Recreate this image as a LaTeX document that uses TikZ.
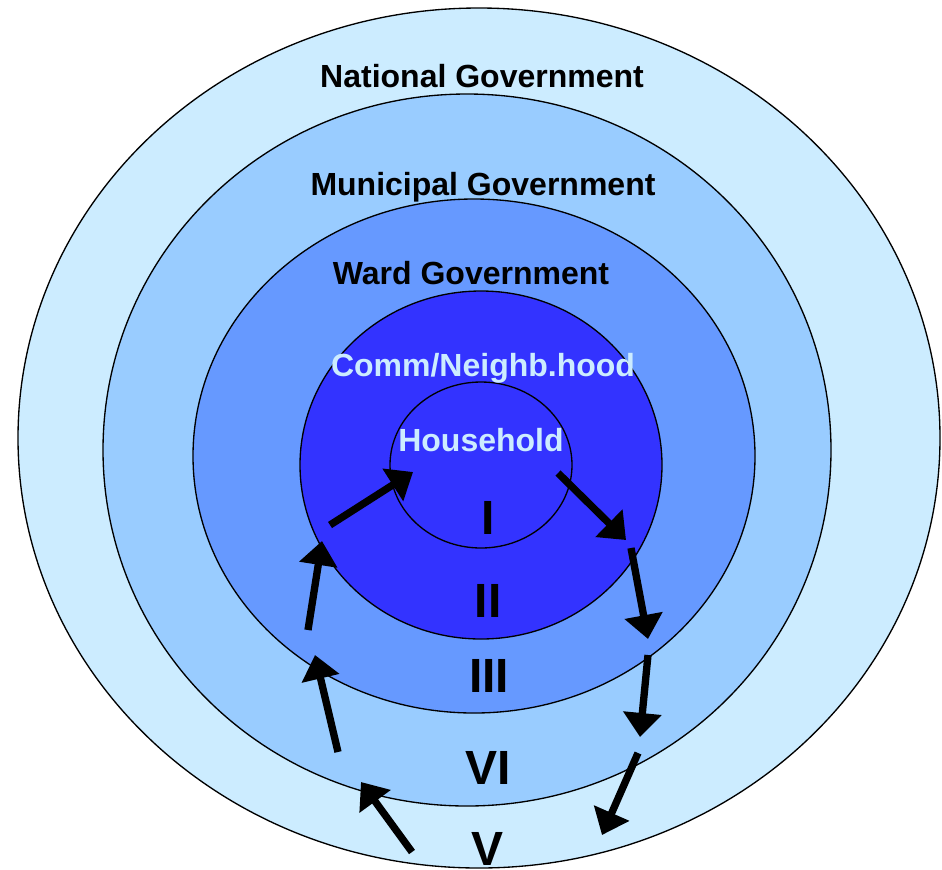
\documentclass[tikz,border=0pt]{standalone}
\usepackage{fontspec}
\setmainfont{Liberation Sans}
\usetikzlibrary{arrows.meta}

\definecolor{nationalfill}{HTML}{CCECFF}
\definecolor{municipalfill}{HTML}{99CCFF}
\definecolor{wardfill}{HTML}{6699FF}
\definecolor{commfill}{HTML}{3333FF}
\definecolor{paletext}{HTML}{CCECFF}

\tikzset{every picture/.style={line width=0.75pt},
	ring/.style={draw=black, line width=1pt},
	levellabel/.style={font=\bfseries\fontsize{24}{28}\selectfont, anchor=base, inner sep=0pt},
	numeral/.style={font=\bfseries\fontsize{36}{40}\selectfont, anchor=base, inner sep=0pt},
	flow/.style={line width=5.5pt, -{Triangle[length=18pt,width=28pt]}}}

\begin{document}
\begin{tikzpicture}[x=0.75pt,y=0.75pt,yscale=-1,xscale=1]
	\useasboundingbox (0,0) rectangle (942,869);
	
	%Shape: Ellipse (national)
	\draw [ring, fill=nationalfill] (479,438) ellipse [x radius=461, y radius=430];
	%Shape: Ellipse (municipal)
	\draw [ring, fill=municipalfill] (467,450) ellipse [x radius=364, y radius=356];
	%Shape: Ellipse (ward)
	\draw [ring, fill=wardfill] (474,456) ellipse [x radius=281, y radius=257];
	%Shape: Ellipse (community)
	\draw [ring, fill=commfill] (481,465) ellipse [x radius=181, y radius=174];
	%Shape: Ellipse (household)
	\draw [ring, fill=commfill] (481,465) ellipse [x radius=91, y radius=83];
	
	% Text Node
	\node [levellabel] (national) at (482,87) {National Government};
	% Text Node
	\node [levellabel] (municipal) at (483,195) {Municipal Government};
	% Text Node
	\node [levellabel] (ward) at (471,284) {Ward Government};
	% Text Node
	\node [levellabel, text=paletext] (comm) at (483,376) {Comm/Neighb.hood};
	% Text Node
	\node [levellabel, text=paletext] (household) at (481,451) {Household};
	
	% Text Node
	\node [numeral] (lvlI) at (488,534) {I};
	% Text Node
	\node [numeral] (lvlII) at (488,617) {II};
	% Text Node
	\node [numeral] (lvlIII) at (489,692) {III};
	% Text Node
	\node [numeral] (lvlVI) at (488,784) {VI};
	% Text Node
	\node [numeral] (lvlV) at (488,865) {V};
	
	%Arrow ends, upward chain on the left
	\coordinate (upAtail) at (412,852);
	\coordinate (upAtip) at (361,782);
	\coordinate (upBtail) at (338,752);
	\coordinate (upBtip) at (315,655);
	\coordinate (upCtail) at (308,630);
	\coordinate (upCtip) at (322,541);
	\coordinate (upDtail) at (330,525);
	\coordinate (upDtip) at (413,472);
	%Arrow ends, downward chain on the right
	\coordinate (downAtail) at (558,473);
	\coordinate (downAtip) at (626,540);
	\coordinate (downBtail) at (631,548);
	\coordinate (downBtip) at (648,639);
	\coordinate (downCtail) at (648,655);
	\coordinate (downCtip) at (640,737);
	\coordinate (downDtail) at (638,753);
	\coordinate (downDtip) at (602,835);
	
	%Straight Lines
	\draw [flow] (upAtail) -- (upAtip);
	\draw [flow] (upBtail) -- (upBtip);
	\draw [flow] (upCtail) -- (upCtip);
	\draw [flow] (upDtail) -- (upDtip);
	%Straight Lines
	\draw [flow] (downAtail) -- (downAtip);
	\draw [flow] (downBtail) -- (downBtip);
	\draw [flow] (downCtail) -- (downCtip);
	\draw [flow] (downDtail) -- (downDtip);
	
\end{tikzpicture}
\end{document}
